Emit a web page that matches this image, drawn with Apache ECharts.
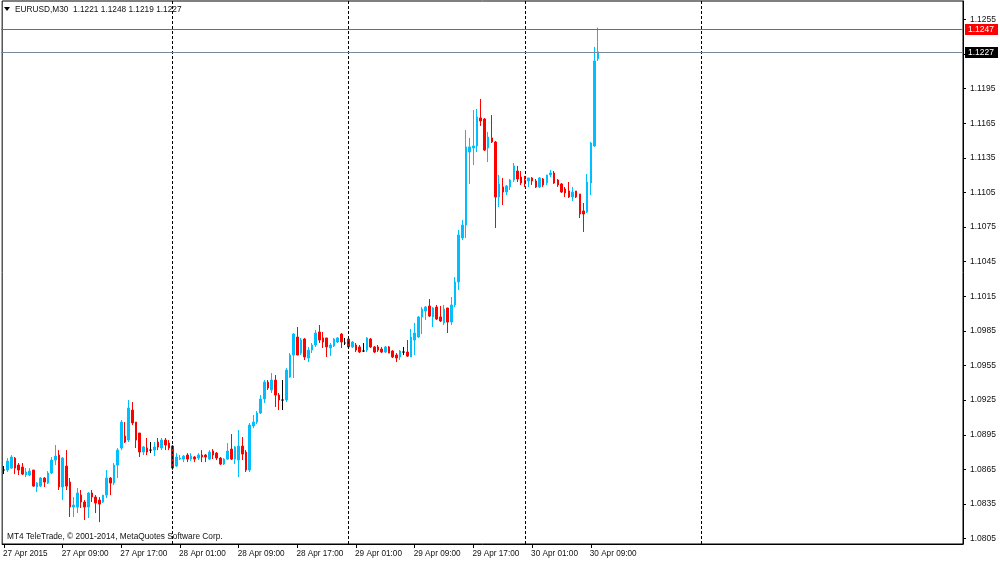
<!DOCTYPE html>
<html><head><meta charset="utf-8">
<script src="https://cdn.jsdelivr.net/npm/echarts@6/dist/echarts.min.js"></script>
<style>html,body{margin:0;padding:0;background:#fff}#c{width:1000px;height:561px}</style>
</head><body><div id="c"></div>
<script>
const opens = [1.08644,1.08644,1.08661,1.08748,1.08687,1.08670,1.08601,1.08601,1.08644,1.08497,1.08505,1.08575,1.08531,1.08618,1.08731,1.08774,1.08497,1.08679,1.08540,1.08323,1.08323,1.08427,1.08367,1.08323,1.08445,1.08410,1.08384,1.08367,1.08427,1.08575,1.08531,1.08687,1.08835,1.08939,1.08904,1.09164,1.09060,1.08965,1.08800,1.08835,1.08817,1.08817,1.08887,1.08835,1.08904,1.08878,1.08852,1.08679,1.08739,1.08739,1.08774,1.08739,1.08757,1.08748,1.08774,1.08774,1.08739,1.08809,1.08791,1.08748,1.08696,1.08739,1.08826,1.08739,1.08731,1.08852,1.08800,1.08644,1.09026,1.09060,1.09138,1.09260,1.09407,1.09338,1.09424,1.09294,1.09251,1.09251,1.09450,1.09641,1.09797,1.09658,1.09780,1.09615,1.09684,1.09728,1.09841,1.09789,1.09789,1.09702,1.09719,1.09754,1.09823,1.09745,1.09780,1.09711,1.09728,1.09711,1.09676,1.09684,1.09780,1.09711,1.09711,1.09693,1.09667,1.09711,1.09676,1.09641,1.09624,1.09667,1.09667,1.09624,1.09771,1.09797,1.09971,1.10023,1.10066,1.09971,1.10057,1.09971,1.09919,1.10049,1.09927,1.10075,1.10274,1.10656,1.10768,1.11401,1.11436,1.11453,1.11696,1.11687,1.11436,1.11523,1.11488,1.11011,1.11098,1.11054,1.11098,1.11158,1.11236,1.11184,1.11158,1.11150,1.11176,1.11150,1.11098,1.11167,1.11132,1.11202,1.11219,1.11158,1.11124,1.11080,1.11063,1.11011,1.11063,1.11037,1.10890,1.10881,1.11132,1.11453,1.1221];
const closes = [1.08644,1.08722,1.08757,1.08661,1.08644,1.08609,1.08627,1.08635,1.08505,1.08531,1.08575,1.08540,1.08618,1.08731,1.08765,1.08497,1.08748,1.08505,1.08323,1.08341,1.08445,1.08367,1.08323,1.08445,1.08410,1.08358,1.08349,1.08427,1.08575,1.08531,1.08687,1.08817,1.09060,1.08887,1.09182,1.09052,1.08904,1.08800,1.08844,1.08800,1.08817,1.08844,1.08844,1.08904,1.08861,1.08835,1.08661,1.08757,1.08748,1.08765,1.08739,1.08765,1.08739,1.08774,1.08757,1.08757,1.08800,1.08774,1.08748,1.08696,1.08739,1.08809,1.08739,1.08844,1.08852,1.08783,1.08644,1.09034,1.09060,1.09138,1.09260,1.09407,1.09355,1.09424,1.09294,1.09251,1.09251,1.09511,1.09641,1.09823,1.09641,1.09771,1.09624,1.09684,1.09728,1.09832,1.09771,1.09754,1.09711,1.09728,1.09780,1.09789,1.09754,1.09745,1.09711,1.09754,1.09684,1.09667,1.09676,1.09789,1.09711,1.09667,1.09684,1.09667,1.09711,1.09658,1.09624,1.09615,1.09676,1.09667,1.09632,1.09797,1.09832,1.09971,1.10040,1.10057,1.09979,1.10049,1.09953,1.09936,1.10040,1.09927,1.10075,1.10274,1.10682,1.10768,1.11445,1.11445,1.11453,1.11705,1.11670,1.11418,1.11531,1.11488,1.11011,1.11124,1.11054,1.11106,1.11158,1.11280,1.11167,1.11132,1.11132,1.11176,1.11150,1.11098,1.11176,1.11115,1.11202,1.11219,1.11132,1.11115,1.11054,1.11046,1.11011,1.11054,1.11011,1.10864,1.10864,1.11141,1.11479,1.12190,1.1227];
const lows = [1.08609,1.08627,1.08653,1.08609,1.08601,1.08601,1.08583,1.08592,1.08497,1.08453,1.08497,1.08497,1.08523,1.08609,1.08687,1.08471,1.08384,1.08471,1.08237,1.08237,1.08271,1.08315,1.08211,1.08228,1.08367,1.08271,1.08193,1.08358,1.08401,1.08427,1.08514,1.08575,1.08817,1.08878,1.08887,1.09034,1.08835,1.08757,1.08774,1.08774,1.08791,1.08765,1.08817,1.08817,1.08817,1.08817,1.08644,1.08670,1.08731,1.08713,1.08713,1.08722,1.08713,1.08731,1.08713,1.08713,1.08731,1.08739,1.08731,1.08687,1.08687,1.08731,1.08731,1.08696,1.08583,1.08731,1.08627,1.08627,1.09008,1.09043,1.09130,1.09225,1.09338,1.09312,1.09190,1.09164,1.09164,1.09234,1.09442,1.09442,1.09641,1.09641,1.09598,1.09580,1.09658,1.09711,1.09745,1.09702,1.09624,1.09632,1.09711,1.09745,1.09702,1.09728,1.09711,1.09702,1.09667,1.09658,1.09667,1.09667,1.09702,1.09658,1.09667,1.09658,1.09658,1.09658,1.09615,1.09580,1.09598,1.09641,1.09624,1.09624,1.09641,1.09789,1.09823,1.09945,1.09971,1.09884,1.09945,1.09927,1.09901,1.09832,1.09901,1.10057,1.10205,1.10638,1.10656,1.11124,1.11288,1.11401,1.11627,1.11410,1.11314,1.11479,1.10742,1.10924,1.10942,1.11028,1.11072,1.11141,1.11141,1.11115,1.11098,1.11098,1.11115,1.11089,1.11089,1.11098,1.11115,1.11184,1.11124,1.11098,1.11046,1.11011,1.11002,1.10976,1.11002,1.10829,1.10708,1.10872,1.11028,1.11445,1.1219];
const highs = [1.08679,1.08748,1.08774,1.08757,1.08705,1.08705,1.08661,1.08661,1.08644,1.08540,1.08583,1.08583,1.08635,1.08757,1.08861,1.08817,1.08757,1.08817,1.08575,1.08410,1.08488,1.08471,1.08384,1.08453,1.08471,1.08427,1.08410,1.08427,1.08644,1.08583,1.08705,1.08835,1.09078,1.09060,1.09251,1.09234,1.09060,1.08965,1.08852,1.08922,1.08887,1.08887,1.08922,1.08922,1.08922,1.08904,1.08861,1.08791,1.08774,1.08774,1.08791,1.08791,1.08765,1.08791,1.08817,1.08783,1.08817,1.08826,1.08800,1.08757,1.08748,1.08878,1.08956,1.08852,1.08991,1.08930,1.08817,1.09052,1.09121,1.09156,1.09294,1.09424,1.09424,1.09485,1.09468,1.09312,1.09424,1.09528,1.09658,1.09832,1.09884,1.09789,1.09789,1.09711,1.09745,1.09858,1.09901,1.09841,1.09789,1.09745,1.09789,1.09797,1.09832,1.09789,1.09789,1.09763,1.09745,1.09728,1.09745,1.09797,1.09789,1.09719,1.09728,1.09711,1.09719,1.09719,1.09684,1.09658,1.09684,1.09711,1.09771,1.09867,1.09919,1.09979,1.10057,1.10066,1.10127,1.10057,1.10075,1.10066,1.10075,1.10049,1.10144,1.10317,1.10725,1.10812,1.11592,1.11523,1.11765,1.11774,1.11861,1.11696,1.11575,1.11722,1.11497,1.11202,1.11176,1.11115,1.11167,1.11306,1.11280,1.11236,1.11193,1.11176,1.11184,1.11167,1.11184,1.11176,1.11202,1.11245,1.11236,1.11167,1.11132,1.11098,1.11141,1.11098,1.11063,1.11037,1.10959,1.11210,1.11488,1.12312,1.1248];
const timeLabels = ['27 Apr 2015','27 Apr 09:00','27 Apr 17:00','28 Apr 01:00','28 Apr 09:00','28 Apr 17:00','29 Apr 01:00','29 Apr 09:00','29 Apr 17:00','30 Apr 01:00','30 Apr 09:00'];
const labelEvery = 16;
const totalSlots = 262;
const priceTicks = [1.0805,1.0835,1.0865,1.0895,1.0925,1.0955,1.0985,1.1015,1.1045,1.1075,1.1105,1.1135,1.1165,1.1195,1.1225,1.1255];
const daySeparators = [46, 94, 142, 190];
const alertLevel = 1.1247;
const bidLevel = 1.1227;
const titleText = 'EURUSD,M30  1.1221 1.1248 1.1219 1.1227';
const copyrightText = 'MT4 TeleTrade, \u00a9 2001-2014, MetaQuotes Software Corp.';

const FONT = 'Liberation Sans';
const categories = Array.from({length: totalSlots}, (_, i) => String(i));
const candles = opens.map((o, i) => [o, closes[i], lows[i], highs[i]]);
const showLabel = (i) => i % labelEvery === 0 && (i / labelEvery) < timeLabels.length;

const chart = echarts.init(document.getElementById('c'), null, {renderer: 'canvas'});
chart.setOption({
  animation: false,
  backgroundColor: '#fff',
  grid: {left: 1, right: 37, top: 1, bottom: 17, show: true, borderColor: '#000', borderWidth: 1, containLabel: false},
  xAxis: {
    type: 'category', data: categories, boundaryGap: true,
    axisLine: {lineStyle: {color: '#000', width: 1}},
    axisTick: {show: true, alignWithLabel: true, interval: (i) => showLabel(i), length: 4, lineStyle: {color: '#000'}},
    axisLabel: {interval: (i) => showLabel(i), formatter: (v, i) => timeLabels[Math.round(i / labelEvery)] || '',
      align: 'left', margin: 6, fontSize: 8.2, fontFamily: FONT, color: '#111', padding: [0, 0, 0, -1]},
    splitLine: {show: false}
  },
  yAxis: {
    type: 'value', position: 'right', min: 1.08003, max: 1.12710, scale: true,
    axisLine: {show: true, lineStyle: {color: '#000', width: 1}},
    axisTick: {show: true, length: 3, customValues: priceTicks, lineStyle: {color: '#000'}},
    axisLabel: {customValues: priceTicks, formatter: (v) => v.toFixed(4), margin: 7, fontSize: 8.5, fontFamily: FONT, color: '#111'},
    splitLine: {show: false}
  },
  series: [{
    type: 'candlestick', data: candles, barWidth: 2,
    itemStyle: {color: '#00bfff', color0: '#ff0000', borderColor: '#00bfff', borderColor0: '#ff0000', borderColorDoji: '#000000', borderWidth: 1},
    markLine: {
      silent: true, symbol: ['none', 'none'], animation: false,
      data: daySeparators.map(d => ({xAxis: String(d), lineStyle: {color: '#000', width: 1, type: [3, 2]}, label: {show: false}}))
    }
  }]
});

// price level lines and their right-hand labels, placed through the y axis scale
const gridLeft = 1, gridRight = 963;
function levelGraphics(id, value, lineColor, boxColor) {
  const y = Math.round(chart.convertToPixel({yAxisIndex: 0}, value));
  return [
    {id: id + 'L', type: 'rect', shape: {x: gridLeft, y: y, width: gridRight - gridLeft, height: 1}, style: {fill: lineColor}, z: 50},
    {id: id + 'B', type: 'rect', shape: {x: 965, y: y - 5, width: 33, height: 11}, style: {fill: boxColor}, z: 60},
    {id: id + 'T', type: 'text', x: 968, y: y + 0.5, style: {text: value.toFixed(4), fontSize: 8.5, fontFamily: FONT, fill: '#fff', textVerticalAlign: 'middle'}, z: 61}
  ];
}
chart.setOption({
  graphic: [
    {id: 'tri', type: 'polygon', shape: {points: [[4, 7], [10, 7], [7, 11]]}, style: {fill: '#000'}},
    {id: 'title', type: 'text', x: 15, y: 10, style: {text: titleText, fontSize: 8.3, fontFamily: FONT, fill: '#111', textVerticalAlign: 'middle'}},
    {id: 'copy', type: 'text', x: 7, y: 537, style: {text: copyrightText, fontSize: 8.3, fontFamily: FONT, fill: '#111', textVerticalAlign: 'middle'}}
  ].concat(levelGraphics('alert', alertLevel, '#ff3030', '#ff0000'), levelGraphics('bid', bidLevel, '#778899', '#000000'))
});
</script></body></html>
